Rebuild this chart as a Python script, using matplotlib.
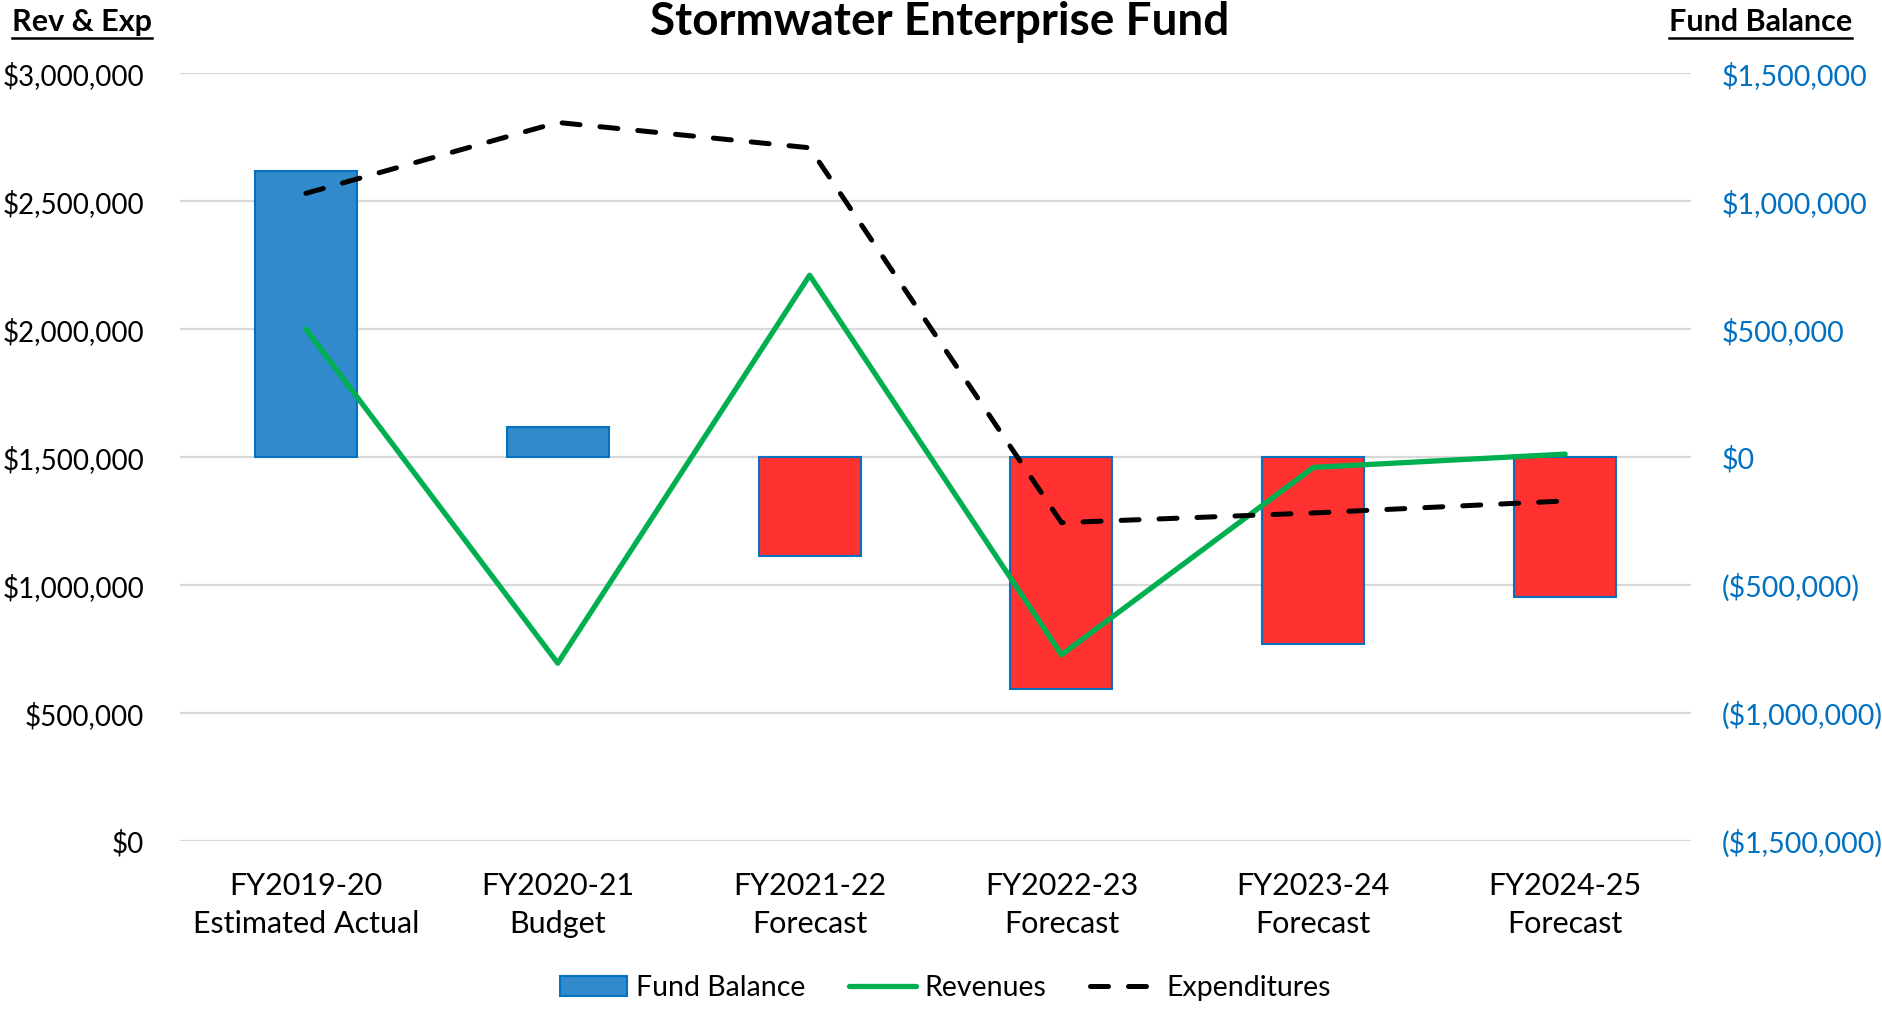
import matplotlib
matplotlib.use("Agg")
import matplotlib.pyplot as plt
from matplotlib.ticker import FuncFormatter, MultipleLocator
from matplotlib.lines import Line2D

plt.rcParams["font.family"] = ["Lato", "DejaVu Sans"]

categories = ["FY2019-20\nEstimated Actual", "FY2020-21\nBudget", "FY2021-22\nForecast",
              "FY2022-23\nForecast", "FY2023-24\nForecast", "FY2024-25\nForecast"]
fund_balance = [1117000, 117000, -385000, -906000, -732000, -545000]
revenues = [2000000, 695000, 2211000, 728000, 1460000, 1512000]
expenditures = [2531000, 2808000, 2709000, 1244000, 1282000, 1329000]

BLUE = "#0070C0"
x = list(range(len(categories)))

fig = plt.figure(figsize=(18.83, 10.10), dpi=100)
ax2 = fig.add_axes([0.0956, 0.1673, 0.8025, 0.7601])   # fund balance (right)
ax = ax2.twinx()
ax.yaxis.tick_left()
ax2.yaxis.tick_right()
ax.set_zorder(ax2.get_zorder() + 1)
ax.patch.set_visible(False)

bar_colors = ["#2A86CA" if v >= 0 else "#FF2A2A" for v in fund_balance]
bars = ax2.bar(x, fund_balance, width=0.405, color=bar_colors, edgecolor=BLUE,
               linewidth=1.5, alpha=0.97, label="Fund Balance", zorder=3)
ax2.set_ylim(-1500000, 1500000)
ax2.yaxis.set_major_locator(MultipleLocator(500000))
ax2.grid(axis="y", color="#D9D9D9", linewidth=1.6)
ax2.set_axisbelow(True)

(rev_line,) = ax.plot(x, revenues, color="#00B050", linewidth=3.8, label="Revenues",
                      solid_capstyle="round", solid_joinstyle="round")
(exp_line,) = ax.plot(x, expenditures, color="black", linewidth=3.6, label="Expenditures",
                      dashes=(3.6, 4.0), dash_capstyle="round", dash_joinstyle="round")
ax.set_ylim(0, 3000000)
ax.yaxis.set_major_locator(MultipleLocator(500000))
ax.set_xlim(-0.5, 5.5)


def left_fmt(v, pos):
    return f"${v:,.0f}"


def right_fmt(v, pos):
    if v < 0:
        return f"(${-v:,.0f})"
    return f"${v:,.0f}"


ax.yaxis.set_major_formatter(FuncFormatter(left_fmt))
ax2.yaxis.set_major_formatter(FuncFormatter(right_fmt))

ax2.set_xticks(x)
ax2.set_xticklabels(categories, fontsize=22, linespacing=1.47)
ax2.tick_params(axis="x", length=0, pad=22)
ax.tick_params(axis="x", length=0, labelbottom=False)
ax.tick_params(axis="y", length=0, labelsize=20, pad=26, labelleft=True, labelright=False)
ax2.tick_params(axis="y", length=0, labelsize=20.5, pad=22, labelcolor=BLUE,
                labelright=True, labelleft=False)

for a in (ax, ax2):
    for s in a.spines.values():
        s.set_visible(False)

fig.text(0.499, 0.9655, "Stormwater Enterprise Fund", ha="center", va="baseline",
         fontsize=33, fontweight="bold")
t1 = fig.text(0.0435, 0.969, "Rev & Exp", ha="center", va="baseline",
              fontsize=22, fontweight="bold")
t2 = fig.text(0.935, 0.969, "Fund Balance", ha="center", va="baseline",
              fontsize=22, fontweight="bold")

handles = [bars, rev_line, exp_line]
fig.legend(handles, [h.get_label() for h in handles], loc="center", ncol=3,
           bbox_to_anchor=(0.502, 0.022), frameon=False, fontsize=20.5,
           handlelength=2.35, handletextpad=0.3, columnspacing=1.55)

# underline the two axis titles
fig.canvas.draw()
r = fig.canvas.get_renderer()
for t in (t1, t2):
    bb = t.get_window_extent(r).transformed(fig.transFigure.inverted())
    yline = 0.969 - 0.0065
    fig.add_artist(Line2D([bb.x0, bb.x1], [yline, yline], color="black",
                          linewidth=1.8, transform=fig.transFigure))

fig.savefig("out.png", dpi=100)
